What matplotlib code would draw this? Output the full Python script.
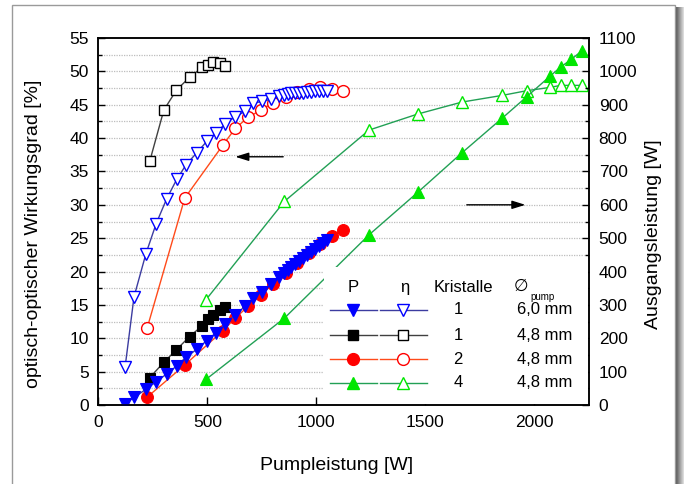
import matplotlib
matplotlib.use('Agg')
import matplotlib.pyplot as plt
from matplotlib.patches import Rectangle
from matplotlib.ticker import MultipleLocator

plt.rcParams['font.family'] = ['Liberation Sans', 'DejaVu Sans']

# ---------------- data ----------------
# crystal 1, 6.0 mm (blue)
pump_b = [122, 163, 218, 265, 313, 359, 402, 451, 497, 540, 581, 627, 673, 711, 749, 791, 830,
          850, 868, 886, 904, 922, 940, 958, 976, 994, 1012, 1030, 1048]
eta_b = [5.65, 16.2, 22.7, 27.2, 30.9, 33.8, 36.0, 37.8, 39.5, 40.8, 42.1, 43.2, 44.0, 45.2, 45.5,
         45.8, 46.3, 46.5, 46.6, 46.7, 46.7, 46.8, 46.8, 46.9, 46.9, 47.0, 47.0, 47.1, 47.1]
out_b = [3, 23, 47, 70, 93, 117, 143, 167, 193, 217, 243, 270, 296, 320, 340, 362, 384,
         395, 404, 413, 422, 431, 440, 449, 458, 467, 476, 485, 494]

# crystal 1, 4.8 mm (black)
pump_k = [235, 300, 358, 418, 477, 501, 527, 557, 582]
eta_k = [36.5, 44.2, 47.2, 49.1, 50.6, 51.0, 51.4, 51.2, 50.8]
out_k = [82, 128, 166, 205, 238, 257, 270, 285, 295]

# crystals 2, 4.8 mm (red)
pump_r = [224, 396, 570, 629, 687, 745, 803, 859, 911, 965, 1017, 1072, 1122]
eta_r = [11.6, 31.0, 38.9, 41.5, 43.1, 44.2, 45.3, 46.2, 46.9, 47.3, 47.6, 47.4, 47.1]
out_r = [24, 120, 222, 261, 296, 329, 364, 397, 427, 456, 484, 507, 526]

# crystals 4, 4.8 mm (green)
pump_g = [494, 853, 1242, 1465, 1669, 1854, 1966, 2074, 2122, 2171, 2220]
eta_g = [15.8, 30.5, 41.2, 43.6, 45.4, 46.4, 47.1, 47.6, 47.9, 47.9, 47.9]
out_g = [77, 260, 510, 637, 756, 860, 924, 986, 1013, 1036, 1062]

legend_krist = ['1', '1', '2', '4']
legend_diam = ['6,0 mm', '4,8 mm', '4,8 mm', '4,8 mm']

# ---------------- styles ----------------
line_cols = ['#3c3ca0', '#404040', '#ff4a1a', '#22a055']
mark_cols = ['#0000ff', '#000000', '#ff0000', '#00e600']
fill_mk = ['v', 's', 'o', '^']
ms = [9, 7.5, 8.5, 9]

fig = plt.figure(figsize=(6.84, 4.84), dpi=100)
ax = fig.add_axes([0.144, 0.1632, 0.7171, 0.7583])
ax2 = ax.twinx()

ax.set_xlim(0, 2252)
ax.set_ylim(0, 55)
ax2.set_ylim(0, 1100)

series = [(pump_b, eta_b, out_b), (pump_k, eta_k, out_k),
          (pump_r, eta_r, out_r), (pump_g, eta_g, out_g)]

# draw order: green, red, black, blue (blue on top)
for i in [3, 2, 1, 0]:
    p, e, o = series[i]
    ax.plot(p, e, color=line_cols[i], lw=1.0, marker=fill_mk[i], ms=ms[i],
            mfc='white', mec=mark_cols[i], mew=1.0, zorder=3)
    ax2.plot(p, o, color=line_cols[i], lw=1.0, marker=fill_mk[i], ms=ms[i],
             mfc=mark_cols[i], mec=mark_cols[i], mew=0.8, zorder=2)

# grid (dotted, every 2.5)
for yv in [2.5 * k for k in range(1, 22)]:
    ax.axhline(yv, xmin=0.005, xmax=0.99, color='#bdbdbd', lw=0.9, ls=(0, (1, 1)), zorder=1)

# ticks
ax.yaxis.set_major_locator(MultipleLocator(5))
ax.yaxis.set_minor_locator(MultipleLocator(2.5))
ax.xaxis.set_major_locator(MultipleLocator(500))
ax2.yaxis.set_major_locator(MultipleLocator(100))
ax2.yaxis.set_minor_locator(MultipleLocator(50))

ax.tick_params(axis='y', which='major', direction='in', length=5, width=1, labelsize=12.5, pad=7,
               left=True, right=False)
ax.tick_params(axis='y', which='minor', direction='in', length=3, width=1, left=True, right=False)
ax.tick_params(axis='x', which='major', direction='in', length=6, width=1, labelsize=12.5, pad=7)
ax2.tick_params(axis='y', which='major', direction='in', length=5, width=1, labelsize=12.5, pad=7)
ax2.tick_params(axis='y', which='minor', direction='in', length=3, width=1)

for a in (ax, ax2):
    for s in a.spines.values():
        s.set_linewidth(1.1)

ax.set_xlabel('Pumpleistung [W]', fontsize=14)
ax.set_ylabel('optisch-optischer Wirkungsgrad [%]', fontsize=14)
ax2.set_ylabel('Ausgangsleistung [W]', fontsize=14, rotation=90)
ax.xaxis.set_label_coords(0.486, -0.142)
ax.yaxis.set_label_coords(-0.115, 0.466)
ax2.yaxis.set_label_coords(1.114, 0.466)

# arrows
ax.annotate('', xy=(628, 37.2), xytext=(848, 37.2),
            arrowprops=dict(arrowstyle='-|>,head_length=0.8,head_width=0.25', color='black',
                            lw=1.0, mutation_scale=10, shrinkA=0, shrinkB=0))
ax.annotate('', xy=(1960, 30.0), xytext=(1691, 30.0),
            arrowprops=dict(arrowstyle='-|>,head_length=0.8,head_width=0.25', color='black',
                            lw=1.0, mutation_scale=10, shrinkA=0, shrinkB=0))

# legend box (custom table)
tr = ax2.transAxes
ax2.add_patch(Rectangle((0.46, 0.003), 0.538, 0.373, transform=tr, facecolor='white',
                        edgecolor='none', zorder=4))
hy = 0.3207
ax2.text(0.519, hy, 'P', transform=tr, ha='center', va='center', fontsize=12, zorder=5)
ax2.text(0.625, hy, 'η', transform=tr, ha='center', va='center', fontsize=12, zorder=5)
ax2.text(0.744, hy, 'Kristalle', transform=tr, ha='center', va='center', fontsize=12, zorder=5)
ax2.text(0.862, hy + 0.005, '∅', transform=tr, ha='center', va='center', fontsize=12,
         family=['DejaVu Sans'], zorder=5)
ax2.text(0.906, 0.293, 'pump', transform=tr, ha='center', va='center', fontsize=7, zorder=5)

row_y = [0.2589, 0.1907, 0.1245, 0.0608]
for i in range(4):
    y = row_y[i]
    ax2.plot([0.472, 0.567], [y, y], transform=tr, color=line_cols[i], lw=1.0, zorder=5,
             clip_on=False)
    ax2.plot([0.519], [y], transform=tr, marker=fill_mk[i], ms=ms[i], mfc=mark_cols[i],
             mec=mark_cols[i], ls='none', zorder=6, clip_on=False)
    ax2.plot([0.574, 0.669], [y, y], transform=tr, color=line_cols[i], lw=1.0, zorder=5,
             clip_on=False)
    ax2.plot([0.621], [y], transform=tr, marker=fill_mk[i], ms=ms[i], mfc='white',
             mec=mark_cols[i], mew=1.0, ls='none', zorder=6, clip_on=False)
    ax2.text(0.733, y, legend_krist[i], transform=tr, ha='center', va='center', fontsize=12,
             zorder=6)
    ax2.text(0.853, y, legend_diam[i], transform=tr, ha='left', va='center', fontsize=12,
             zorder=6)

# outer frame with shadow
W, H = 684, 484
for k in range(9):
    shade = 0.30 + 0.07 * k
    fig.patches.append(Rectangle(((675 + k) / W, 0), 1.0 / W, (H - 7) / H,
                                 transform=fig.transFigure, facecolor=(shade, shade, shade),
                                 edgecolor='none', zorder=0))
fig.patches.append(Rectangle((12 / W, -0.01), 663 / W, (H - 5) / H + 0.01,
                             transform=fig.transFigure, fill=False, edgecolor='#9a9a9a',
                             lw=1.0, zorder=1))

fig.savefig('out.png', dpi=100)
